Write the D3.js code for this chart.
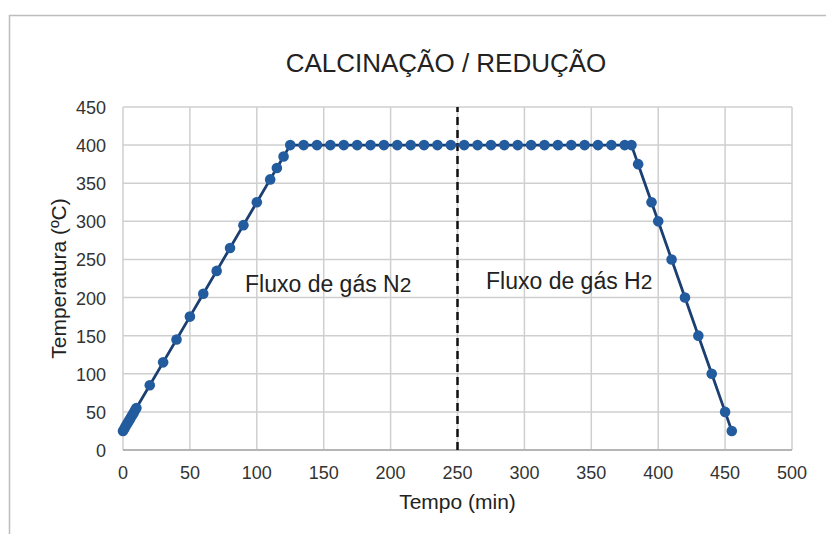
<!DOCTYPE html>
<html>
<head>
<meta charset="utf-8">
<script src="https://cdn.jsdelivr.net/npm/d3@7"></script>
<style>
  body { margin: 0; background: #fff; }
  text { font-family: "Liberation Sans", Arial, sans-serif; }
</style>
</head>
<body>
<svg id="chart" width="826" height="534"></svg>
<script>
// time (min) and temperature (ºC)
const tempo = [0, 1, 2, 3, 4, 5, 6, 7, 8, 9, 10,
  20, 30, 40, 50, 60, 70, 80, 90, 100, 110, 115, 120,
  125, 135, 145, 155, 165, 175, 185, 195, 205, 215, 225, 235, 245, 255,
  265, 275, 285, 295, 305, 315, 325, 335, 345, 355, 365, 375, 380,
  385, 395, 400, 410, 420, 430, 440, 450, 455];
const temperatura = [25, 28, 31, 34, 37, 40, 43, 46, 49, 52, 55,
  85, 115, 145, 175, 205, 235, 265, 295, 325, 355, 370, 385,
  400, 400, 400, 400, 400, 400, 400, 400, 400, 400, 400, 400, 400, 400,
  400, 400, 400, 400, 400, 400, 400, 400, 400, 400, 400, 400, 400,
  375, 325, 300, 250, 200, 150, 100, 50, 25];
const xTicks = [0, 50, 100, 150, 200, 250, 300, 350, 400, 450, 500];
const yTicks = [0, 50, 100, 150, 200, 250, 300, 350, 400, 450];
const divisao = 250;

const svg = d3.select('#chart');
const margin = { left: 123, right: 34, top: 107, bottom: 84 };
const width = 826, height = 534;

// outer frame
svg.append('path')
  .attr('d', 'M9.5,534 V15.5 H826')
  .attr('fill', 'none')
  .attr('stroke', '#bdbdbd')
  .attr('stroke-width', 1.5);

const x = d3.scaleLinear().domain([0, 500]).range([margin.left, width - margin.right]);
const y = d3.scaleLinear().domain([0, 450]).range([height - margin.bottom, margin.top]);

// grid
svg.append('g').selectAll('line').data(xTicks).enter().append('line')
  .attr('x1', d => x(d)).attr('x2', d => x(d))
  .attr('y1', y(0)).attr('y2', y(450))
  .attr('stroke', '#cfcfcf').attr('stroke-width', 1.5);
svg.append('g').selectAll('line').data(yTicks).enter().append('line')
  .attr('x1', x(0)).attr('x2', x(500))
  .attr('y1', d => y(d)).attr('y2', d => y(d))
  .attr('stroke', '#cfcfcf').attr('stroke-width', 1.5);
svg.append('line')
  .attr('x1', x(0)).attr('x2', x(500)).attr('y1', y(0)).attr('y2', y(0))
  .attr('stroke', '#a8a8a8').attr('stroke-width', 1.5);

// tick labels
svg.append('g').selectAll('text').data(xTicks).enter().append('text')
  .attr('x', d => x(d)).attr('y', y(0) + 29)
  .attr('text-anchor', 'middle')
  .attr('font-size', 18).attr('fill', '#333')
  .text(d => d);
svg.append('g').selectAll('text').data(yTicks).enter().append('text')
  .attr('x', x(0) - 17).attr('y', d => y(d) + 7)
  .attr('text-anchor', 'end')
  .attr('font-size', 18).attr('fill', '#333')
  .text(d => d);

// dashed divider
svg.append('line')
  .attr('x1', x(divisao)).attr('x2', x(divisao))
  .attr('y1', y(0)).attr('y2', y(450))
  .attr('stroke', '#111').attr('stroke-width', 2.5)
  .attr('stroke-dasharray', '8,5');

// series
const pts = tempo.map((t, i) => ({ t: t, v: temperatura[i] }));
const line = d3.line().x(d => x(d.t)).y(d => y(d.v));
svg.append('path')
  .datum(pts)
  .attr('d', line)
  .attr('fill', 'none')
  .attr('stroke', '#1c3f72')
  .attr('stroke-width', 2.8)
  .attr('stroke-linejoin', 'round');
svg.append('g').selectAll('circle').data(pts).enter().append('circle')
  .attr('cx', d => x(d.t))
  .attr('cy', d => y(d.v))
  .attr('r', 5.3)
  .attr('fill', '#235c9e');

// texts
svg.append('text')
  .attr('x', 446).attr('y', 72)
  .attr('text-anchor', 'middle')
  .attr('font-size', 26).attr('fill', '#222')
  .text('CALCINAÇÃO / REDUÇÃO');

function rotulo(xPos, yPos, gas) {
  const t = svg.append('text')
    .attr('x', xPos).attr('y', yPos)
    .attr('font-size', 23).attr('fill', '#222');
  t.append('tspan').text('Fluxo de gás ' + gas);
  t.append('tspan').attr('font-size', 21).text('2');
}
rotulo(245, 292, 'N');
rotulo(486, 289, 'H');

svg.append('text')
  .attr('x', x(250)).attr('y', 509)
  .attr('text-anchor', 'middle')
  .attr('font-size', 21).attr('fill', '#222')
  .text('Tempo (min)');
svg.append('text')
  .attr('transform', 'translate(66,' + ((y(0) + y(450)) / 2) + ') rotate(-90)')
  .attr('text-anchor', 'middle')
  .attr('font-size', 21).attr('fill', '#222')
  .text('Temperatura (ºC)');
</script>
</body>
</html>
